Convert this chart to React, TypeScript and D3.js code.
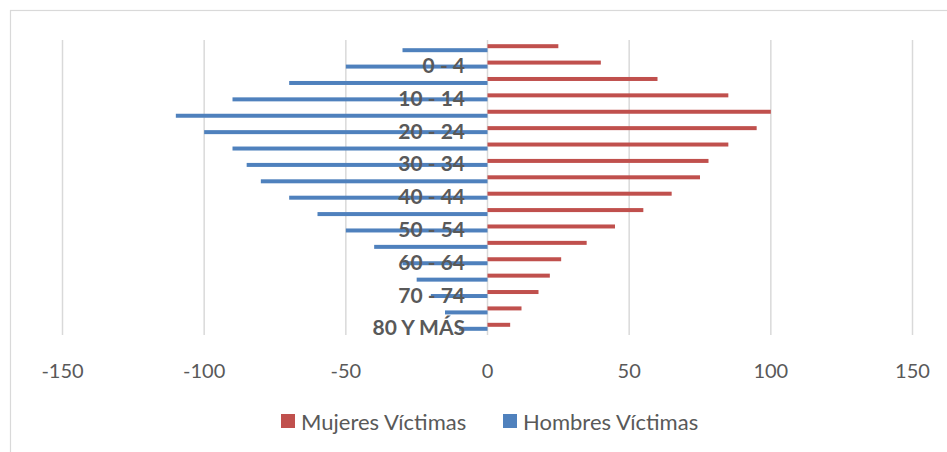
import React from "react";
import * as d3 from "d3";

const categories = [
  "Sin dato", "0 - 4", "5 - 9", "10 - 14", "15 - 19", "20 - 24", "25 - 29", "30 - 34",
  "35 - 39", "40 - 44", "45 - 49", "50 - 54", "55 - 59", "60 - 64", "65 - 69",
  "70 - 74", "75 - 79", "80 Y MÁS",
];
const mujeres = [25, 40, 60, 85, 100, 95, 85, 78, 75, 65, 55, 45, 35, 26, 22, 18, 12, 8];
const hombres = [-30, -50, -70, -90, -110, -100, -90, -85, -80, -70, -60, -50, -40, -30, -25, -20, -15, -10];
const xTicks = [-150, -100, -50, 0, 50, 100, 150];
const seriesNames = ["Mujeres Víctimas", "Hombres Víctimas"];

const W = 947;
const H = 452;
const RED = "#C0504D";
const BLUE = "#4F81BD";
const GRID = "#D9D9D9";
const TXT = "#595959";
const FONT = "Lato, 'Open Sans', sans-serif";

export default function App() {
  const x = d3.scaleLinear().domain([-150, 150]).range([62.5, 912.5]);
  const y = d3.scaleBand<string>().domain(categories).range([40, 335]).padding(0);
  const inner = d3.scaleBand<string>().domain(["m", "h"]).range([0, y.bandwidth()]).paddingInner(0).paddingOuter(1.05);
  const bh = inner.bandwidth();

  return (
    <svg width={W} height={H} style={{ position: "absolute", left: 0, top: 0, background: "#fff" }}>
      <rect x={10.5} y={10.5} width={W + 20} height={H + 20} fill="#fff" stroke={GRID} strokeWidth={1.2} />
      {xTicks.map((t) => (
        <line key={"g" + t} x1={x(t)} x2={x(t)} y1={40} y2={335} stroke={GRID} strokeWidth={1.5} />
      ))}
      {categories.map((c, i) => (
        <g key={c}>
          <rect x={x(0)} y={(y(c) as number) + (inner("m") as number)} width={x(mujeres[i]) - x(0)} height={bh} fill={RED} />
          <rect x={x(hombres[i])} y={(y(c) as number) + (inner("h") as number)} width={x(0) - x(hombres[i])} height={bh} fill={BLUE} />
        </g>
      ))}
      {categories.map((c, i) =>
        i % 2 === 1 ? (
          <text key={"l" + c} x={465} y={(y(c) as number) + y.bandwidth() / 2} textAnchor="end" dominantBaseline="central"
            fontFamily={FONT} fontWeight="bold" fontSize={21} fill={TXT}>{c}</text>
        ) : null
      )}
      {xTicks.map((t) => (
        <text key={"t" + t} x={x(t)} y={370} textAnchor="middle" dominantBaseline="central" fontFamily={FONT} fontSize={20} fill={TXT}>{t}</text>
      ))}
      <g>
        <rect x={281} y={414} width={14} height={14} fill={RED} />
        <text x={301} y={421} dominantBaseline="central" fontFamily={FONT} fontSize={22} fill={TXT}>{seriesNames[0]}</text>
        <rect x={503} y={414} width={14} height={14} fill={BLUE} />
        <text x={523} y={421} dominantBaseline="central" fontFamily={FONT} fontSize={22} fill={TXT}>{seriesNames[1]}</text>
      </g>
    </svg>
  );
}
